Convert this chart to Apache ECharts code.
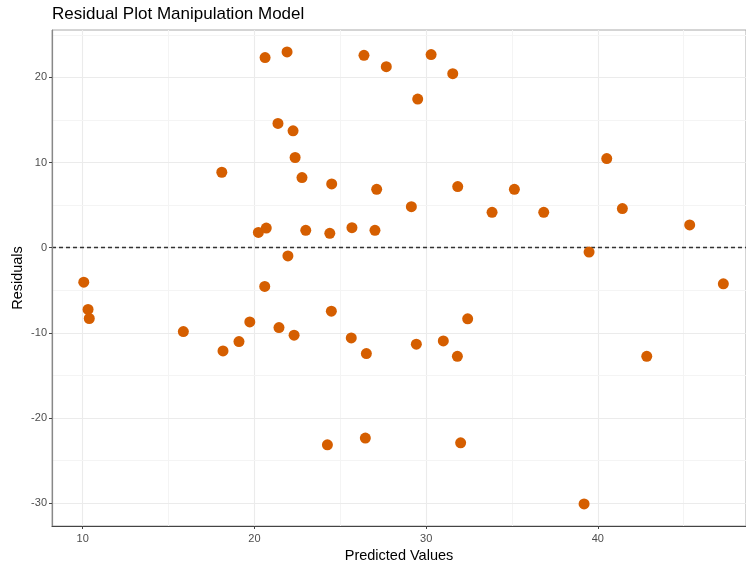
<!DOCTYPE html>
<html>
<head>
<meta charset="utf-8">
<script src="https://cdn.jsdelivr.net/npm/echarts@6/dist/echarts.min.js"></script>
<style>html,body{margin:0;padding:0;background:#fff}#c{width:746px;height:564px}</style>
</head>
<body>
<div id="c"></div>
<script>
var predicted = [20.62, 21.90, 21.37, 22.25, 22.37, 22.77, 18.10, 24.50, 27.12, 26.38, 27.68,
  20.23, 20.69, 22.99, 24.39, 25.68, 27.02, 21.95,
  30.29, 31.55, 29.51, 29.14, 31.84, 33.84, 35.14, 36.85, 40.52, 41.43, 45.35, 39.49,
  10.06, 10.31, 10.38, 15.86, 18.17, 19.10, 19.73, 20.60, 21.43, 22.31, 24.48, 25.64, 26.52, 24.25, 26.46,
  47.31, 32.42, 29.43, 31.00, 31.82, 42.85, 32.01, 39.20];
var residuals = [22.32, 22.98, 14.59, 13.73, 10.59, 8.24, 8.86, 7.49, 6.86, 22.59, 21.26,
  1.80, 2.31, 2.04, 1.69, 2.35, 2.04, -0.96,
  22.67, 20.43, 17.45, 4.82, 7.18, 4.16, 6.86, 4.16, 10.47, 4.59, 2.67, -0.51,
  -4.04, -7.25, -8.31, -9.84, -12.12, -11.02, -8.71, -4.55, -9.37, -10.27, -7.45, -10.59, -12.43, -23.14, -22.35,
  -4.24, -8.35, -11.33, -10.94, -12.75, -12.75, -22.90, -30.08];
var xTicks = [10, 20, 30, 40];
var yTicks = [-30, -20, -10, 0, 10, 20];
var xMinor = [15, 25, 35, 45];
var yMinor = [-25, -15, -5, 5, 15, 25];
var titleText = 'Residual Plot Manipulation Model';
var xTitle = 'Predicted Values';
var yTitle = 'Residuals';

var points = predicted.map(function (x, i) { return [x, residuals[i]]; });
var FONT = 'Liberation Sans, Arial, sans-serif';
var gridLines = [];
xTicks.forEach(function (v) { gridLines.push({ xAxis: v, lineStyle: { color: '#EBEBEB', width: 1.1, type: 'solid' } }); });
xMinor.forEach(function (v) { gridLines.push({ xAxis: v, lineStyle: { color: '#F4F4F4', width: 1, type: 'solid' } }); });
yTicks.forEach(function (v) { gridLines.push({ yAxis: v, lineStyle: { color: '#EBEBEB', width: 1.1, type: 'solid' } }); });
yMinor.forEach(function (v) { gridLines.push({ yAxis: v, lineStyle: { color: '#F4F4F4', width: 1, type: 'solid' } }); });

var chart = echarts.init(document.getElementById('c'), null, { renderer: 'canvas' });
chart.setOption({
  animation: false,
  backgroundColor: '#fff',
  title: {
    text: titleText, left: 52, top: 6, padding: 0,
    textStyle: { fontFamily: FONT, fontSize: 17, fontWeight: 'normal', color: '#000' }
  },
  grid: { left: 52, right: 0, top: 30, bottom: 38, show: true, borderColor: '#AAAAAA', borderWidth: 1,
    containLabel: false, outerBoundsMode: 'none' },
  xAxis: {
    type: 'value', min: 8.21, max: 48.63, z: 6,
    name: xTitle, nameLocation: 'middle', nameGap: 22, nameMoveOverlap: false,
    nameTextStyle: { fontFamily: FONT, fontSize: 14.5, color: '#000' },
    axisLine: { show: true, onZero: false, lineStyle: { color: '#444', width: 1.2 } },
    axisTick: { show: true, customValues: xTicks, length: 3, lineStyle: { color: '#444' } },
    axisLabel: { customValues: xTicks, color: '#4D4D4D', fontFamily: FONT, fontSize: 11, margin: 7 },
    splitLine: { show: false }
  },
  yAxis: {
    type: 'value', min: -32.67, max: 25.56, z: 6,
    name: yTitle, nameLocation: 'middle', nameGap: 27, nameRotate: 90, nameMoveOverlap: false,
    nameTextStyle: { fontFamily: FONT, fontSize: 14.5, color: '#000' },
    axisLine: { show: true, onZero: false, lineStyle: { color: '#888', width: 1.2 } },
    axisTick: { show: true, customValues: yTicks, length: 3, lineStyle: { color: '#444' } },
    axisLabel: { customValues: yTicks, color: '#4D4D4D', fontFamily: FONT, fontSize: 11, margin: 5 },
    splitLine: { show: false }
  },
  series: [
    {
      type: 'scatter', data: [], z: 1, silent: true,
      markLine: { silent: true, z: 1, symbol: 'none', label: { show: false }, data: gridLines, animation: false }
    },
    {
      type: 'scatter', data: [], z: 2, silent: true,
      markLine: {
        silent: true, z: 2, symbol: 'none', label: { show: false }, animation: false,
        data: [{ yAxis: 0 }],
        lineStyle: { color: '#333', width: 1.3, type: [4, 3] }
      }
    },
    {
      type: 'scatter', data: points, z: 3,
      symbol: 'circle', symbolSize: 11,
      itemStyle: { color: '#D55E00', opacity: 1 }
    }
  ]
});
</script>
</body>
</html>
